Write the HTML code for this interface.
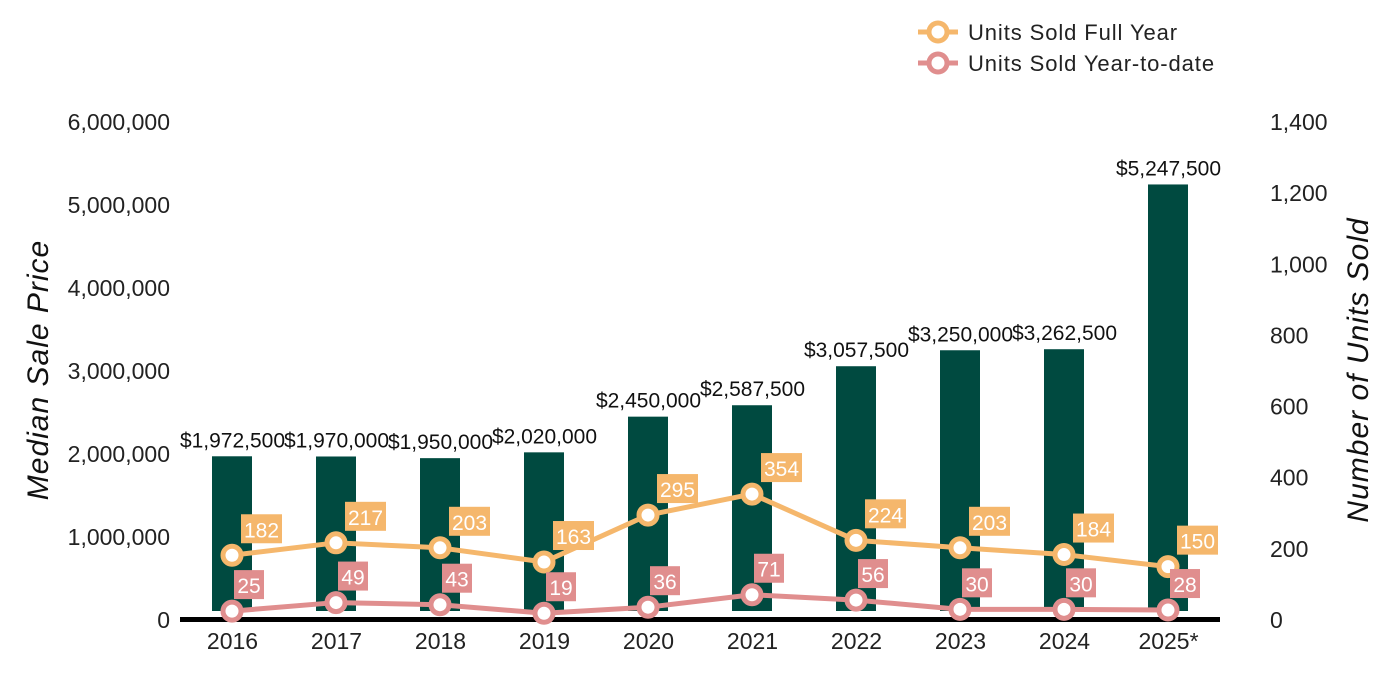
<!DOCTYPE html>
<html><head><meta charset="utf-8"><style>
html,body{margin:0;padding:0;background:#fff;}
svg{display:block;font-family:"Liberation Sans",Arial,sans-serif;}
</style></head><body>
<svg id="chart" width="1400" height="700" viewBox="0 0 1400 700" xmlns="http://www.w3.org/2000/svg">
<g id="legend">
  <g>
    <line x1="918" y1="32" x2="958" y2="32" stroke="#f5b76c" stroke-width="5"/>
    <circle cx="938" cy="32" r="9" fill="#fff" stroke="#f5b76c" stroke-width="5"/>
    <text x="968" y="40" font-size="22" fill="#222" style="letter-spacing:0.9px">Units Sold Full Year</text>
  </g>
  <g>
    <line x1="918" y1="63" x2="958" y2="63" stroke="#e08e8e" stroke-width="5"/>
    <circle cx="938" cy="63" r="9" fill="#fff" stroke="#e08e8e" stroke-width="5"/>
    <text x="968" y="71" font-size="22" fill="#222" style="letter-spacing:0.9px">Units Sold Year-to-date</text>
  </g>
</g>
<text transform="translate(48,370) rotate(-90)" text-anchor="middle" font-size="30" font-style="italic" fill="#111" style="letter-spacing:1px">Median Sale Price</text>
<text transform="translate(1368,370) rotate(-90)" text-anchor="middle" font-size="30" font-style="italic" fill="#111" style="letter-spacing:1px">Number of Units Sold</text>
<g id="ticksL"></g>
<g id="ticksR"></g>
<g id="bars"></g>
<rect x="180" y="617" width="1040" height="5" fill="#000"/>
<g id="xlabels"></g>
<g id="lines"></g>
</svg>
<script>
const categories = ["2016","2017","2018","2019","2020","2021","2022","2023","2024","2025*"];
const medianPrice = [1972500,1970000,1950000,2020000,2450000,2587500,3057500,3250000,3262500,5247500];
const unitsFullYear = [182,217,203,163,295,354,224,203,184,150];
const unitsYTD = [25,49,43,19,36,71,56,30,30,28];
const leftTicks = [0,1000000,2000000,3000000,4000000,5000000,6000000];
const rightTicks = [0,200,400,600,800,1000,1200,1400];

const NS="http://www.w3.org/2000/svg";
const y0=620, yTop=122;
const yL=v=>y0-(v/6000000)*(y0-yTop);
const yR=v=>y0-(v/1400)*(y0-yTop);
const xC=i=>232+i*104;
const fmt=v=>v.toLocaleString('en-US');
function mk(tag,attrs,parent){const e=document.createElementNS(NS,tag);for(const k in attrs)e.setAttribute(k,attrs[k]);parent.appendChild(e);return e;}

const tL=document.getElementById('ticksL');
leftTicks.forEach(v=>{const t=mk('text',{x:170,y:yL(v)+8,'text-anchor':'end','font-size':23,fill:'#222'},tL);t.textContent=fmt(v);

});
const tR=document.getElementById('ticksR');
rightTicks.forEach(v=>{const t=mk('text',{x:1270,y:yR(v)+8,'font-size':23,fill:'#222'},tR);t.textContent=fmt(v);

});

const bars=document.getElementById('bars');
medianPrice.forEach((v,i)=>{
  const top=yL(v);
  const r=mk('rect',{x:xC(i)-20,y:top,width:40,height:611-top,fill:'#004a40'},bars);
  
  
  const t=mk('text',{x:xC(i)+0.5,y:top-9,'text-anchor':'middle','font-size':21,fill:'#111'},bars);
  t.textContent='$'+fmt(v);
  
  
});
const xl=document.getElementById('xlabels');
categories.forEach((c,i)=>{const t=mk('text',{x:xC(i)+0.5,y:649,'text-anchor':'middle','font-size':23,fill:'#222'},xl);t.textContent=c;

});

const lines=document.getElementById('lines');
function series(vals,color,name){
  const g=mk('g',{},lines);
  
  
  mk('polyline',{points:vals.map((v,i)=>xC(i)+','+yR(v)).join(' '),fill:'none',stroke:color,'stroke-width':5,'stroke-linejoin':'round'},g);
  vals.forEach((v,i)=>{
    const cx=xC(i),cy=yR(v);
    const c=mk('circle',{cx:cx,cy:cy,r:9,fill:'#fff',stroke:color,'stroke-width':5},g);
    
    
    const s=String(v),w=s.length*11+8;
    const bx=cx+(s.length>2?9:2);
    const b=mk('rect',{x:bx,y:cy-41,width:w,height:29,fill:color},g);
    
    
    const t=mk('text',{x:bx+w/2,y:cy-18,'text-anchor':'middle','font-size':21,fill:'#fff'},g);
    t.textContent=s;
    
    
  });
}
series(unitsFullYear,'#f5b76c','full-year-line');
series(unitsYTD,'#e08e8e','ytd-line');
</script>
</body></html>
